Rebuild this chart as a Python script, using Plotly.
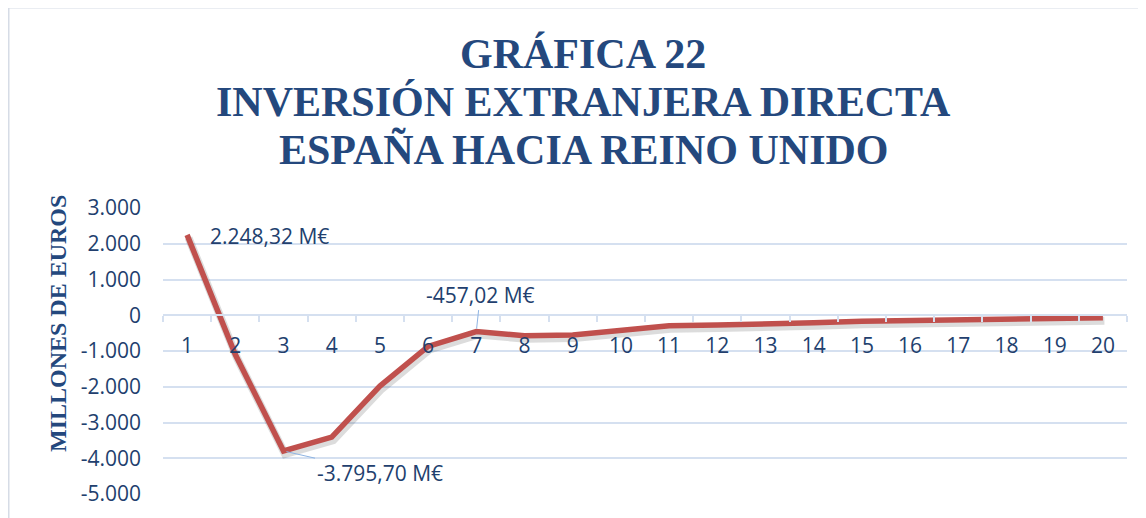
import plotly.graph_objects as go

categories = [str(i) for i in range(1, 21)]
values = [2248.32, -1100, -3795.70, -3410, -1980, -870, -457.02, -570, -555, -410,
          -295, -275, -260, -210, -165, -150, -130, -110, -90, -70]
y_ticks = [3000, 2000, 1000, 0, -1000, -2000, -3000, -4000, -5000]
y_tick_labels = ["3.000", "2.000", "1.000", "0", "-1.000", "-2.000", "-3.000", "-4.000", "-5.000"]
title_lines = ["GRÁFICA 22", "INVERSIÓN EXTRANJERA DIRECTA", "ESPAÑA HACIA REINO UNIDO"]
y_title = "MILLONES DE EUROS"
callouts = [(0, "2.248,32 M€"), (6, "-457,02 M€"), (2, "-3.795,70 M€")]

# page has an 8px body margin: figure occupies window pixels 8..1146, 8..518
OFF = 8
W, H = 1146 - OFF, 518 - OFF
ML, MR, MT, MB = 163 - OFF, 19, 208 - OFF, 24
PW, PH = W - ML - MR, H - MT - MB

def px_x(p):  # window pixel -> paper x
    return (p - OFF - ML) / PW

def px_y(p):  # window pixel -> paper y
    return (H - MB - (p - OFF)) / PH

TXT = "#223F6E"
TITLE = "#24487D"
GRID = "#D5E0F0"
RED = "#C0504D"

ymin, ymax = -5000, 3000
xr = [-0.5, 19.5]
sdx = 1.5 * (xr[1] - xr[0]) / PW
sdy = 3 * (ymax - ymin) / PH

fig = go.Figure()
# invisible carrier trace so the base axes (ticks, grid) are drawn
fig.add_trace(go.Scatter(x=categories, y=values, mode="lines",
                         line=dict(color="rgba(0,0,0,0)", width=0),
                         hoverinfo="skip", showlegend=False))
# soft shadow on its own shifted overlay axes
fig.add_trace(go.Scatter(x=categories, y=values, mode="lines",
                         line=dict(color="rgba(40,40,40,0.16)", width=8),
                         xaxis="x2", yaxis="y2", hoverinfo="skip", showlegend=False))
# main line on top
fig.add_trace(go.Scatter(x=categories, y=values, mode="lines",
                         line=dict(color=RED, width=5.5),
                         xaxis="x3", yaxis="y3", showlegend=False))

zero_pos = (0 - ymin) / (ymax - ymin)

fig.update_layout(
    width=W, height=H,
    margin=dict(l=ML, r=MR, t=MT, b=MB),
    paper_bgcolor="white", plot_bgcolor="white",
    font=dict(family="Open Sans", color=TXT, size=21),
    xaxis=dict(type="category", categoryorder="array", categoryarray=categories,
               range=xr, anchor="free", position=zero_pos,
               showgrid=False, showline=True, linecolor=GRID, linewidth=1.5,
               ticks="outside", ticklen=6, tickcolor=GRID, tickwidth=1.5,
               tickson="boundaries", ticklabelstandoff=12,
               tickfont=dict(size=21, color=TXT), zeroline=False),
    yaxis=dict(range=[ymin, ymax], tickvals=y_ticks, ticktext=y_tick_labels,
               showgrid=True, gridcolor=GRID, gridwidth=1.5, zeroline=False,
               showline=False, ticks="", ticklabelstandoff=21,
               tickfont=dict(size=21, color=TXT)),
    xaxis2=dict(type="category", categoryorder="array", categoryarray=categories,
                range=[xr[0] - sdx, xr[1] - sdx], overlaying="x",
                visible=False, anchor="y2"),
    yaxis2=dict(range=[ymin + sdy, ymax + sdy], overlaying="y", visible=False,
                anchor="x2"),
    xaxis3=dict(type="category", categoryorder="array", categoryarray=categories,
                range=xr, overlaying="x", visible=False, anchor="y3"),
    yaxis3=dict(range=[ymin, ymax], overlaying="y", visible=False, anchor="x3"),
)

for txt, cy in zip(title_lines, [54, 102, 150]):
    fig.add_annotation(text=txt, xref="paper", yref="paper", x=px_x(583), y=px_y(cy),
                       xanchor="center", yanchor="middle", showarrow=False,
                       font=dict(family="Liberation Serif", size=42, color=TITLE,
                                 weight="bold"))

fig.add_annotation(text=y_title, xref="paper", yref="paper", x=px_x(58), y=px_y(324),
                   xanchor="center", yanchor="middle", textangle=-90, showarrow=False,
                   font=dict(family="Liberation Serif", size=24, color=TITLE, weight="bold"))

# callouts (x given as category serial index on the main-line axes)
i, t = callouts[0]
fig.add_annotation(x=i, y=values[i], xref="x3", yref="y3", text=t, showarrow=False,
                   xanchor="left", yanchor="middle", xshift=21, yshift=-1,
                   font=dict(size=21, color=TXT))
i, t = callouts[1]
fig.add_annotation(x=i, y=values[i], xref="x3", yref="y3", text=t, showarrow=True,
                   arrowhead=0, arrowwidth=1, arrowcolor="#8EB4E3",
                   ax=4, ay=-37, standoff=3, font=dict(size=21, color=TXT))
i, t = callouts[2]
fig.add_annotation(x=i, y=values[i], xref="x3", yref="y3", text=t, showarrow=True,
                   arrowhead=0, arrowwidth=1, arrowcolor="#8EB4E3",
                   ax=96, ay=22, standoff=3, font=dict(size=21, color=TXT))

fig.add_shape(type="rect", xref="paper", yref="paper",
              x0=px_x(8.75), x1=px_x(1146 + 20), y0=px_y(518 + 20), y1=px_y(7.75),
              line=dict(color="#D6DCE6", width=1.5), fillcolor="rgba(0,0,0,0)", layer="below")

fig.write_html("out.html")
